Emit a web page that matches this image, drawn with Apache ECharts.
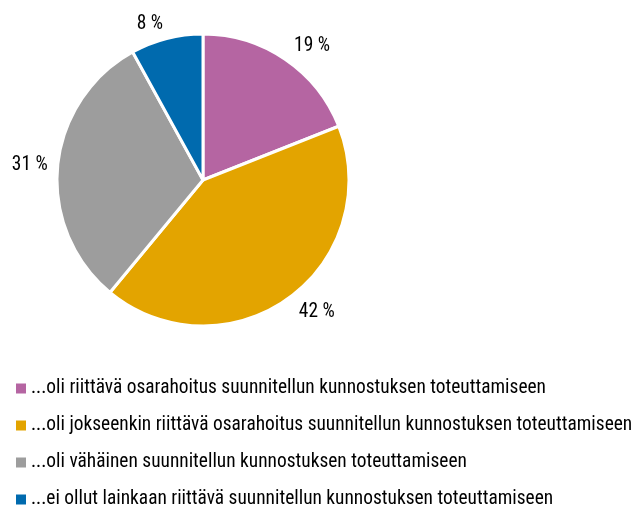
<!DOCTYPE html>
<html><head><meta charset="utf-8">
<script src="https://cdn.jsdelivr.net/npm/echarts@6/dist/echarts.min.js"></script>
<style>html,body{margin:0;padding:0;background:#fff}#c{width:635px;height:509px}</style>
</head><body><div id="c"></div>
<script>
var categories = [
  '...oli riittävä osarahoitus suunnitellun kunnostuksen toteuttamiseen',
  '...oli jokseenkin riittävä osarahoitus suunnitellun kunnostuksen toteuttamiseen',
  '...oli vähäinen suunnitellun kunnostuksen toteuttamiseen',
  '...ei ollut lainkaan riittävä suunnitellun kunnostuksen toteuttamiseen'
];
var values = [19, 42, 31, 8];
var colors = ['#b565a2', '#e3a400', '#9d9d9d', '#006aae'];
var labelLengths = [16, 17, 10, 15];
var FONT = '"Roboto Condensed", "Open Sans Condensed", sans-serif';

var chart = echarts.init(document.getElementById('c'));
chart.setOption({
  animation: false,
  legend: {
    orient: 'vertical', left: 16, top: 379, height: 200, padding: 0,
    itemWidth: 10, itemHeight: 10, itemGap: 18, icon: 'rect',
    itemStyle: { borderWidth: 0 },
    textStyle: { fontFamily: FONT, fontSize: 19.4, color: '#000' },
    data: categories
  },
  series: [{
    type: 'pie', center: [203, 180], radius: [0, 146],
    startAngle: 90, clockwise: true,
    itemStyle: { borderColor: '#fff', borderWidth: 3 },
    label: {
      show: true, position: 'outside', formatter: '{c} %', overflow: 'none',
      fontFamily: FONT, fontSize: 19.4, color: '#000', distanceToLabelLine: 0
    },
    labelLine: { show: false, length2: 0 },
    data: categories.map(function (n, i) {
      return { name: n, value: values[i], itemStyle: { color: colors[i] }, labelLine: { show: false, length: labelLengths[i], length2: 0 } };
    })
  }]
});
</script></body></html>
